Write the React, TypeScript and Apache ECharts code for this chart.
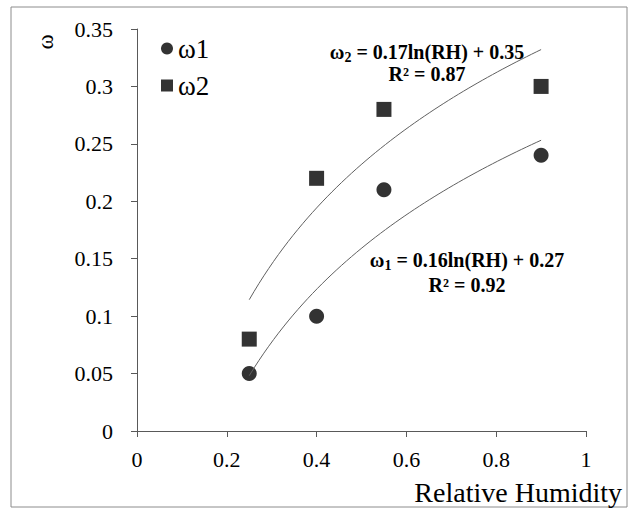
import React, { useEffect, useRef } from "react";
import * as echarts from "echarts";

const omega1X = [0.25, 0.4, 0.55, 0.9];
const omega1Y = [0.05, 0.1, 0.21, 0.24];
const omega2X = [0.25, 0.4, 0.55, 0.9];
const omega2Y = [0.08, 0.22, 0.28, 0.3];
// logarithmic trend coefficients shown on the chart: y = a ln(x) + b
const fit1 = [0.16, 0.27];
const fit2 = [0.17, 0.35];
const fitRange = [0.25, 0.9];
const xTicks = [0, 0.2, 0.4, 0.6, 0.8, 1];

const FONT = "Liberation Serif";

function trend(c: number[]) {
  const pts: number[][] = [];
  const n = 60;
  for (let i = 0; i <= n; i++) {
    const x = fitRange[0] + ((fitRange[1] - fitRange[0]) * i) / n;
    pts.push([x, c[0] * Math.log(x) + c[1]]);
  }
  return pts;
}

function measure(text: string, font: string) {
  const c = document.createElement("canvas").getContext("2d")!;
  c.font = font;
  return c.measureText(text).width;
}

function equation(cx: number, cy: number, gap: number, sub: string, rest: string, r2: string) {
  const big = 20;
  const small = 14;
  const fBig = `bold ${big}px ${FONT}`;
  const fSmall = `bold ${small}px ${FONT}`;
  const w1 = measure("ω", fBig);
  const w2 = measure(sub, fSmall);
  const w3 = measure(rest, fBig);
  const x0 = cx - (w1 + w2 + w3) / 2;
  const base = { fontFamily: FONT, fontWeight: "bold", fill: "#000", verticalAlign: "middle" };
  return [
    { type: "text", x: x0, y: cy, style: { ...base, text: "ω", fontSize: big, align: "left" } },
    { type: "text", x: x0 + w1, y: cy + 5, style: { ...base, text: sub, fontSize: small, align: "left" } },
    { type: "text", x: x0 + w1 + w2, y: cy, style: { ...base, text: rest, fontSize: big, align: "left" } },
    { type: "text", x: cx, y: cy + gap, style: { ...base, text: r2, fontSize: big, align: "center" } },
  ];
}

export default function App() {
  const ref = useRef<HTMLDivElement>(null);
  useEffect(() => {
    document.body.style.margin = "0";
    const chart = echarts.init(ref.current!, undefined, { renderer: "svg" });
    const axisColor = "#595959";
    chart.setOption({
      animation: false,
      grid: { left: 137, right: 45, top: 29, bottom: 78 },
      legend: {
        orient: "vertical",
        left: 156,
        top: 30,
        itemWidth: 12,
        itemHeight: 12,
        itemGap: 10,
        textStyle: { fontFamily: FONT, fontSize: 27, color: "#000" },
        data: [
          { name: "ω1", icon: "circle" },
          { name: "ω2", icon: "rect" },
        ],
      },
      xAxis: {
        type: "value",
        min: 0,
        max: 1,
        interval: 0.2,
        splitLine: { show: false },
        axisLine: { lineStyle: { color: axisColor, width: 1 } },
        axisTick: { show: true, length: 6, lineStyle: { color: axisColor } },
        axisLabel: {
          fontFamily: FONT,
          fontSize: 22,
          color: "#000",
          margin: 17,
          formatter: (v: number) => (xTicks.includes(Math.round(v * 10) / 10) ? String(Math.round(v * 10) / 10) : ""),
        },
      },
      yAxis: {
        type: "value",
        min: 0,
        max: 0.35,
        interval: 0.05,
        splitLine: { show: false },
        axisLine: { show: true, lineStyle: { color: axisColor, width: 1 } },
        axisTick: { show: true, length: 6, lineStyle: { color: axisColor } },
        axisLabel: {
          fontFamily: FONT,
          fontSize: 22,
          color: "#000",
          margin: 24,
          formatter: (v: number) => String(Math.round(v * 100) / 100),
        },
      },
      series: [
        {
          name: "trend1",
          type: "line",
          data: trend(fit1),
          showSymbol: false,
          symbol: "none",
          lineStyle: { color: "#606060", width: 1 },
          silent: true,
        },
        {
          name: "trend2",
          type: "line",
          data: trend(fit2),
          showSymbol: false,
          symbol: "none",
          lineStyle: { color: "#606060", width: 1 },
          silent: true,
        },
        {
          name: "ω1",
          type: "scatter",
          symbol: "circle",
          symbolSize: 15,
          itemStyle: { color: "#000" },
          data: omega1X.map((x, i) => [x, omega1Y[i]]),
        },
        {
          name: "ω2",
          type: "scatter",
          symbol: "rect",
          symbolSize: 15,
          itemStyle: { color: "#000" },
          data: omega2X.map((x, i) => [x, omega2Y[i]]),
        },
      ],
      graphic: [
        {
          type: "rect",
          shape: { x: 11, y: 7, width: 616, height: 500 },
          style: { fill: "none", stroke: "#8c8c8c", lineWidth: 1 },
          silent: true,
        },
        {
          type: "text",
          x: 45,
          y: 42,
          rotation: Math.PI / 2,
          style: { text: "ω", fontFamily: FONT, fontSize: 23, fill: "#000", align: "center", verticalAlign: "middle" },
        },
        {
          type: "text",
          x: 622,
          y: 492,
          style: {
            text: "Relative Humidity",
            fontFamily: FONT,
            fontSize: 28,
            fill: "#000",
            align: "right",
            verticalAlign: "middle",
          },
        },
        ...equation(427, 52, 22, "2", " = 0.17ln(RH) + 0.35", "R² = 0.87"),
        ...equation(467, 260, 25, "1", " = 0.16ln(RH) + 0.27", "R² = 0.92"),
      ],
    });
    return () => chart.dispose();
  }, []);
  return <div ref={ref} style={{ width: 631, height: 509 }} />;
}
